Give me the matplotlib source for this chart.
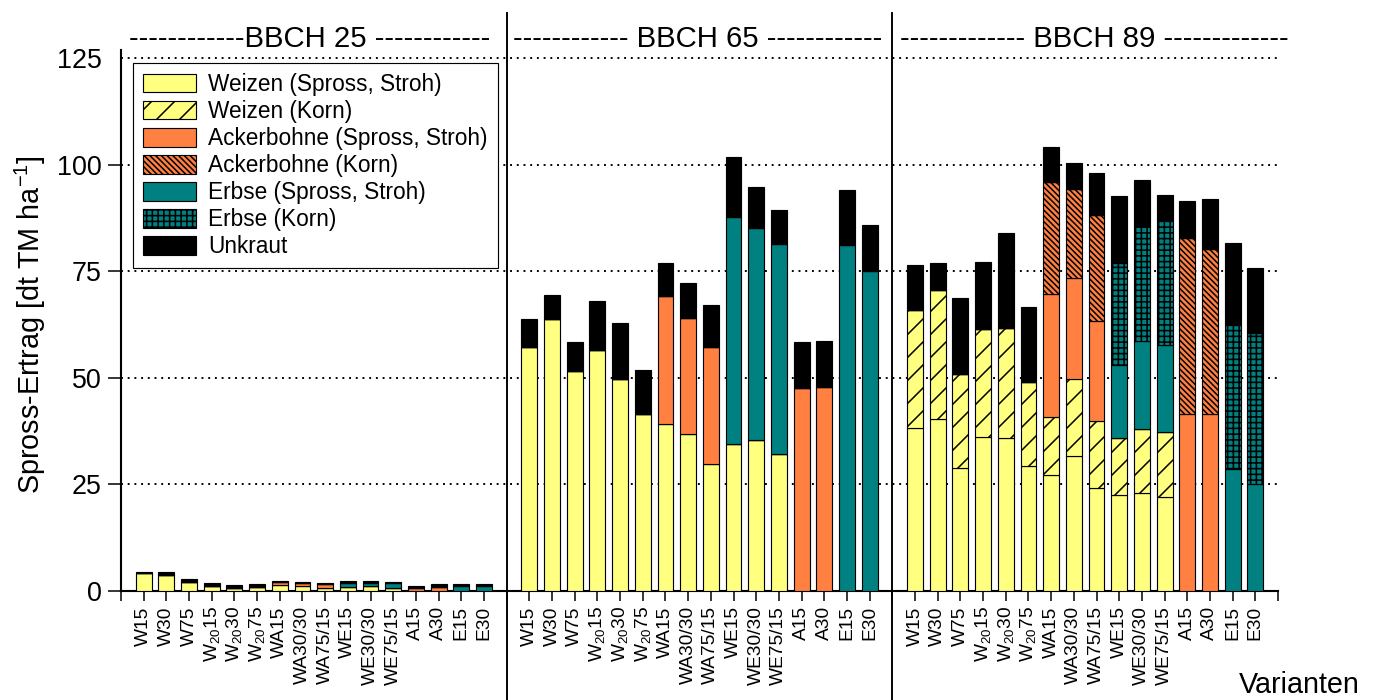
import matplotlib
matplotlib.use('Agg')
import matplotlib.pyplot as plt
import matplotlib.transforms as mtrans
from matplotlib.patches import Patch

plt.rcParams['font.family'] = ['Liberation Sans', 'DejaVu Sans']
plt.rcParams['mathtext.fontset'] = 'custom'
plt.rcParams['mathtext.rm'] = 'Liberation Sans'
plt.rcParams['mathtext.it'] = 'Liberation Sans:italic'
plt.rcParams['mathtext.default'] = 'regular'
plt.rcParams['hatch.linewidth'] = 0.8

# Varianten (je Stadium gleich)
varianten = ['W15', 'W30', 'W75', 'W$_{20}$15', 'W$_{20}$30', 'W$_{20}$75',
             'WA15', 'WA30/30', 'WA75/15', 'WE15', 'WE30/30', 'WE75/15',
             'A15', 'A30', 'E15', 'E30']
stadien = ['------------BBCH 25 ------------',
           '------------ BBCH 65 ------------',
           '------------- BBCH 89 -------------']

# BBCH 25  [dt TM/ha]
w_stroh_25 = [4.15, 3.75, 2.2, 1.2, 0.8, 0.95, 1.5, 1.25, 0.8, 0.95, 1.25, 0.8, 0, 0, 0, 0]
a_stroh_25 = [0, 0, 0, 0, 0, 0, 0.55, 0.65, 0.85, 0, 0, 0, 0.6, 0.95, 0, 0]
e_stroh_25 = [0, 0, 0, 0, 0, 0, 0, 0, 0, 1.0, 0.7, 1.0, 0, 0, 1.1, 1.1]
unkraut_25 = [0.35, 0.65, 0.6, 0.6, 0.7, 0.6, 0.25, 0.2, 0.25, 0.4, 0.45, 0.4, 0.55, 0.75, 0.45, 0.6]

# BBCH 65
w_stroh_65 = [57.3, 63.8, 51.6, 56.5, 49.8, 41.4, 39.2, 36.9, 29.8, 34.4, 35.4, 32.1, 0, 0, 0, 0]
a_stroh_65 = [0, 0, 0, 0, 0, 0, 30.1, 27.1, 27.5, 0, 0, 0, 47.6, 47.9, 0, 0]
e_stroh_65 = [0, 0, 0, 0, 0, 0, 0, 0, 0, 53.3, 49.7, 49.4, 0, 0, 81.2, 75.1]
unkraut_65 = [6.4, 5.7, 6.7, 11.6, 13.0, 10.5, 7.6, 8.2, 9.8, 14.1, 9.7, 7.8, 10.8, 10.7, 12.8, 10.7]

# BBCH 89
w_stroh_89 = [38.3, 40.3, 28.8, 36.1, 35.9, 29.3, 27.3, 31.6, 24.2, 22.5, 22.9, 22.0, 0, 0, 0, 0]
w_korn_89 = [27.7, 30.4, 22.0, 25.4, 25.8, 19.8, 13.5, 18.1, 15.6, 13.4, 15.1, 15.3, 0, 0, 0, 0]
a_stroh_89 = [0, 0, 0, 0, 0, 0, 28.8, 23.6, 23.6, 0, 0, 0, 41.6, 41.6, 0, 0]
a_korn_89 = [0, 0, 0, 0, 0, 0, 26.4, 21.0, 24.8, 0, 0, 0, 41.3, 38.6, 0, 0]
e_stroh_89 = [0, 0, 0, 0, 0, 0, 0, 0, 0, 17.0, 20.7, 20.4, 0, 0, 28.7, 25.1]
e_korn_89 = [0, 0, 0, 0, 0, 0, 0, 0, 0, 24.1, 27.0, 29.2, 0, 0, 33.7, 35.4]
unkraut_89 = [10.5, 6.2, 18.0, 15.7, 22.3, 17.5, 8.2, 6.0, 9.9, 15.6, 10.8, 5.9, 8.6, 11.8, 19.3, 15.3]

keine = [0] * 16
komponenten = [
    ('Weizen (Spross, Stroh)', w_stroh_25 + w_stroh_65 + w_stroh_89, '#FFFF80', ''),
    ('Weizen (Korn)', keine + keine + w_korn_89, '#FFFF80', '//'),
    ('Ackerbohne (Spross, Stroh)', a_stroh_25 + a_stroh_65 + a_stroh_89, '#FF8040', ''),
    ('Ackerbohne (Korn)', keine + keine + a_korn_89, '#FF8040', '\\' * 8),
    ('Erbse (Spross, Stroh)', e_stroh_25 + e_stroh_65 + e_stroh_89, '#008080', ''),
    ('Erbse (Korn)', keine + keine + e_korn_89, '#008080', '++++'),
    ('Unkraut', unkraut_25 + unkraut_65 + unkraut_89, '#000000', ''),
]

x = [g * 17 + i + 1 for g in range(3) for i in range(16)]

fig = plt.figure(figsize=(1379 / 138, 700 / 138), dpi=138)
ax = fig.add_axes([121 / 1379, 1 - 591 / 700, (1278 - 121) / 1379, (591 - 49.5) / 700])

unten = [0.0] * len(x)
for name, werte, farbe, muster in komponenten:
    ax.bar(x, werte, width=0.7, bottom=unten, color=farbe, edgecolor='black',
           linewidth=0.6, hatch=muster, zorder=3)
    unten = [u + w for u, w in zip(unten, werte)]

ax.set_xlim(0, 51)
ax.set_ylim(0, 127)
ax.set_yticks([0, 25, 50, 75, 100, 125])
ax.yaxis.get_major_ticks()[-1].tick1line.set_visible(False)
ax.tick_params(axis='y', labelsize=14, length=7, width=0.8, pad=3)
for y in [25, 50, 75, 100, 125]:
    ax.axhline(y, color='black', linestyle=(0, (1, 2.5)), linewidth=1.0, zorder=1)

ticks = list(range(52))
labels = []
for t in ticks:
    if t % 17 == 0:
        labels.append('')
    else:
        labels.append(varianten[(t % 17) - 1])
ax.set_xticks(ticks)
ax.set_xticklabels(labels, rotation=90, fontsize=10)
ax.tick_params(axis='x', length=5, width=0.8, pad=3)

for s in ['top', 'right']:
    ax.spines[s].set_visible(False)
ax.spines['left'].set_linewidth(1.1)
ax.spines['bottom'].set_linewidth(1.1)

# Trennlinien zwischen den Stadien
trans = mtrans.blended_transform_factory(ax.transData, fig.transFigure)
for xs in [17, 34]:
    ax.plot([xs, xs], [0, 1 - 13 / 700], color='black', linewidth=1.0,
            transform=trans, clip_on=False, zorder=5)

for xc, txt in zip([8.3, 25.4, 42.9], stadien):
    ax.text(xc, 1 - 46.7 / 700, txt, transform=trans, ha='center',
            va='baseline', fontsize=15.3)

fig.text(0.022, 0.536, 'Spross-Ertrag [dt TM ha$^{-1}$]', rotation=90,
         ha='center', va='center', fontsize=15)
fig.text(1360 / 1379, 0.001, 'Varianten', ha='right',
         va='bottom', fontsize=15)

handles = [Patch(facecolor=f, edgecolor='black', hatch=m, linewidth=0.6)
           for n, w, f, m in komponenten]
leg = fig.legend(handles, [k[0] for k in komponenten], loc='upper left',
                 bbox_to_anchor=(133 / 1379, 1 - 63 / 700), borderaxespad=0,
                 fontsize=11.8, frameon=True, fancybox=False, framealpha=1,
                 edgecolor='black', handlelength=2.35, handleheight=0.885,
                 handletextpad=0.53, labelspacing=0.18, borderpad=0.44)
leg.get_frame().set_linewidth(0.6)

fig.savefig('out.png', dpi=138)
